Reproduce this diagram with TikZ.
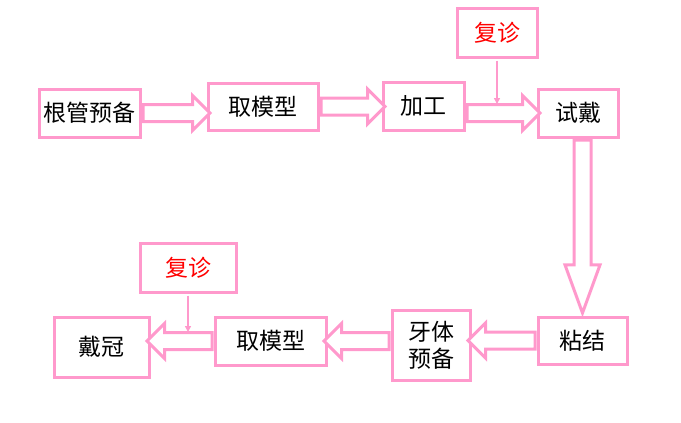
\documentclass[tikz,border=0pt]{standalone}
\usepackage{fontspec}
\setmainfont{Noto Sans CJK SC}
\usetikzlibrary{arrows.meta,calc,shapes.arrows}
\definecolor{boxpink}{HTML}{FF99CC}
\definecolor{visitred}{HTML}{FF0000}
\tikzset{
  stage/.style={draw=boxpink,line width=3pt,inner sep=0pt,align=center,
    font=\fontsize{23}{27}\selectfont},
  hollow/.style={single arrow,draw=boxpink,line width=3pt,fill=white,inner sep=7pt,
    single arrow head extend=9pt,single arrow head indent=0pt},
  visit/.style={draw=boxpink,line width=1.5pt,shorten <=2pt,-{Triangle[length=6pt,width=6pt]}},
}
% hollow block arrow between two points
\newcommand{\blockarrow}[3][]{%
  \path let \p1=(#2), \p2=(#3), \n1={veclen(\x2-\x1,\y2-\y1)}, \n2={atan2(\y2-\y1,\x2-\x1)} in
    node[hollow,minimum height={(\n1+2)*1pt},rotate=\n2,anchor=tail,#1] at (\p1) {};}

\begin{document}
\begin{tikzpicture}[x=1pt,y=-1pt]
\useasboundingbox (0,0) rectangle (681,423);
% top row
\node[stage,minimum width=101pt,minimum height=48pt] (ggyb) at (89.5,113) {根管预备};
\node[stage,minimum width=110pt,minimum height=47pt] (qmx1) at (263,106.5) {取模型};
\node[stage,minimum width=81pt,minimum height=48pt] (jg) at (423.5,106) {加工};
\node[stage,minimum width=80pt,minimum height=49pt,text=visitred] (fz1) at (497,32.5) {复诊};
\node[stage,minimum width=80pt,minimum height=48pt] (sd) at (578,113) {试戴};
% bottom row
\node[stage,minimum width=89pt,minimum height=47pt] (zj) at (582.5,340.5) {粘结};
\node[stage,minimum width=78pt,minimum height=70pt] (ytyb) at (431,345) {牙体\\预备};
\node[stage,minimum width=111pt,minimum height=48pt] (qmx2) at (270.5,341) {取模型};
\node[stage,minimum width=96pt,minimum height=49pt,text=visitred] (fz2) at (188,267.5) {复诊};
\node[stage,minimum width=95pt,minimum height=60pt] (dg) at (101.5,347) {戴冠};

\blockarrow{ggyb.east}{ggyb.east -| qmx1.west}
\blockarrow{qmx1.east}{qmx1.east -| jg.west}
\blockarrow{jg.east |- sd.west}{sd.west}
\blockarrow[single arrow tip angle=40,minimum height=173pt]{zj.north |- sd.south}{zj.north}
\blockarrow{zj.west}{zj.west -| ytyb.east}
\blockarrow{ytyb.west |- qmx2.east}{qmx2.east}
\blockarrow{qmx2.west}{qmx2.west -| dg.east}

\draw[visit] (fz1.south) -- ($(fz1.south |- sd.west)+(0,-9)$);
\draw[visit] (fz2.south) -- ($(fz2.south |- qmx2.west)+(0,-9)$);
\end{tikzpicture}
\end{document}
